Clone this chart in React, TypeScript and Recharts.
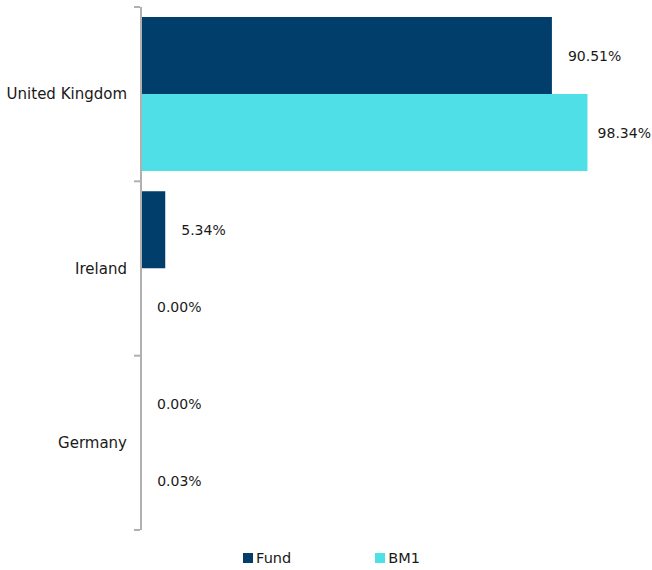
import React from "react";
import { BarChart, Bar, XAxis, YAxis, Legend, LabelList } from "recharts";

const countries = ["United Kingdom", "Ireland", "Germany"];
const fundValues = [90.51, 5.34, 0.0];
const bm1Values = [98.34, 0.0, 0.03];

const C = {
  fund: "#023e6b",
  bm1: "#4fdfe6",
  axis: "#b0b0b0",
  text: "#1a1a1a",
};

const FONT = "'DejaVu Sans', sans-serif";
const CHART_W = 652;

const data = countries.map((name, i) => ({
  name,
  fund: fundValues[i],
  bm1: bm1Values[i],
}));

const fmt = (v: number) => `${Number(v).toFixed(2)}%`;

// eslint-disable-next-line @typescript-eslint/no-explicit-any
function CountryTick({ x, y, payload, index, visibleTicksCount }: any) {
  const half = payload?.offset ?? 0;
  const last = index === (visibleTicksCount ?? countries.length) - 1;
  return (
    <g>
      <line x1={x + 7} x2={x + 13} y1={y - half} y2={y - half} stroke={C.axis} strokeWidth={2} />
      {last && (
        <line x1={x + 7} x2={x + 13} y1={y + half} y2={y + half} stroke={C.axis} strokeWidth={2} />
      )}
      <text x={x} y={y} dy={5} textAnchor="end" fill={C.text} fontSize={15} fontFamily={FONT}>
        {payload.value}
      </text>
    </g>
  );
}

// value label to the right of the bar, pulled back inside the chart if it would overflow
// eslint-disable-next-line @typescript-eslint/no-explicit-any
function ValueLabel({ x, y, width, height, value }: any) {
  const start = Number(x) + Number(width) + 16;
  const fits = start + 54 <= CHART_W - 1;
  return (
    <text
      x={fits ? start : CHART_W - 1}
      y={Number(y) + Number(height) / 2}
      dy={5}
      textAnchor={fits ? "start" : "end"}
      fill={C.text}
      fontSize={14}
      fontFamily={FONT}
    >
      {fmt(value)}
    </text>
  );
}

function LegendContent() {
  const items = [
    { label: "Fund", color: C.fund },
    { label: "BM1", color: C.bm1 },
  ];
  return (
    <div style={{ display: "flex", justifyContent: "center", gap: 84, paddingLeft: 68, paddingTop: 20 }}>
      {items.map((it) => (
        <div key={it.label} style={{ display: "flex", alignItems: "center", fontFamily: FONT, fontSize: 14.5, color: C.text }}>
          <span style={{ width: 10, height: 10, background: it.color, marginRight: 3, display: "inline-block" }} />
          {it.label}
        </div>
      ))}
    </div>
  );
}

export default function App() {
  return (
    <div style={{ position: "absolute", left: 0, top: 0 }}>
      <BarChart
        width={CHART_W}
        height={570}
        data={data}
        layout="vertical"
        barCategoryGap={10}
        barGap={0}
        margin={{ top: 7, right: 57, bottom: 0, left: 0 }}
      >
        <XAxis type="number" domain={[0, 100]} hide />
        <YAxis
          type="category"
          dataKey="name"
          width={141}
          axisLine={{ stroke: C.axis, strokeWidth: 2 }}
          tickLine={false}
          tickMargin={8}
          tick={<CountryTick />}
        />
        <Legend verticalAlign="bottom" height={40} content={<LegendContent />} />
        <Bar dataKey="fund" name="Fund" fill={C.fund} minPointSize={0.01} isAnimationActive={false}>
          <LabelList dataKey="fund" content={<ValueLabel />} />
        </Bar>
        <Bar dataKey="bm1" name="BM1" fill={C.bm1} minPointSize={0.01} isAnimationActive={false}>
          <LabelList dataKey="bm1" content={<ValueLabel />} />
        </Bar>
      </BarChart>
    </div>
  );
}
